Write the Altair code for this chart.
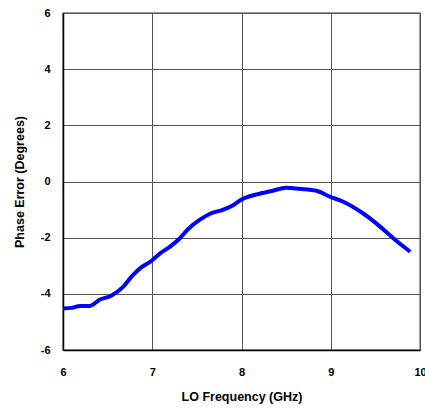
import altair as alt
import pandas as pd

freq = [6.0, 6.1, 6.19, 6.3, 6.41, 6.54, 6.67, 6.77, 6.88, 6.99, 7.08, 7.2, 7.31, 7.4,
        7.53, 7.66, 7.79, 7.89, 8.0, 8.17, 8.35, 8.5, 8.65, 8.84, 8.99, 9.14, 9.36,
        9.51, 9.7, 9.89]
phase = [-4.52, -4.5, -4.43, -4.43, -4.21, -4.07, -3.76, -3.38, -3.05, -2.83, -2.58,
         -2.32, -2.02, -1.7, -1.37, -1.13, -1.01, -0.87, -0.64, -0.46, -0.33, -0.22,
         -0.26, -0.33, -0.54, -0.72, -1.13, -1.49, -2.02, -2.5]
x_ticks = [6, 7, 8, 9, 10]
y_ticks = [-6, -4, -2, 0, 2, 4, 6]

df = pd.DataFrame({"freq": freq, "phase": phase})

chart = alt.Chart(df).mark_line(color="#0000FF", strokeWidth=4, interpolate="monotone").encode(
    x=alt.X("freq:Q", scale=alt.Scale(domain=[6, 10], nice=False),
            axis=alt.Axis(values=x_ticks, title="LO Frequency (GHz)",
                          labelExpr="toString(datum.value)",
                          tickSize=0, labelPadding=16, titlePadding=13)),
    y=alt.Y("phase:Q", scale=alt.Scale(domain=[-6, 6], nice=False),
            axis=alt.Axis(values=y_ticks, title="Phase Error (Degrees)",
                          labelExpr="toString(datum.value)",
                          tickSize=0, labelPadding=13, titlePadding=14)),
).properties(
    width=357, height=337,
    autosize=alt.AutoSizeParams(type="none"),
    padding={"left": 63, "top": 13, "right": 5, "bottom": 58},
).configure_axis(
    labelFont="Liberation Sans", labelFontWeight="bold", labelFontSize=11, labelColor="#000",
    titleFont="Liberation Sans", titleFontWeight="bold", titleFontSize=12.5, titleColor="#000",
    gridColor="#555555", gridWidth=1, gridOpacity=1,
    domainColor="#000000", domainWidth=1.5,
).configure_axisX(labelFlush=False).configure_view(stroke="#808080", strokeWidth=1.5)

chart.save("out.html", embed_options={"renderer": "svg", "actions": False})
